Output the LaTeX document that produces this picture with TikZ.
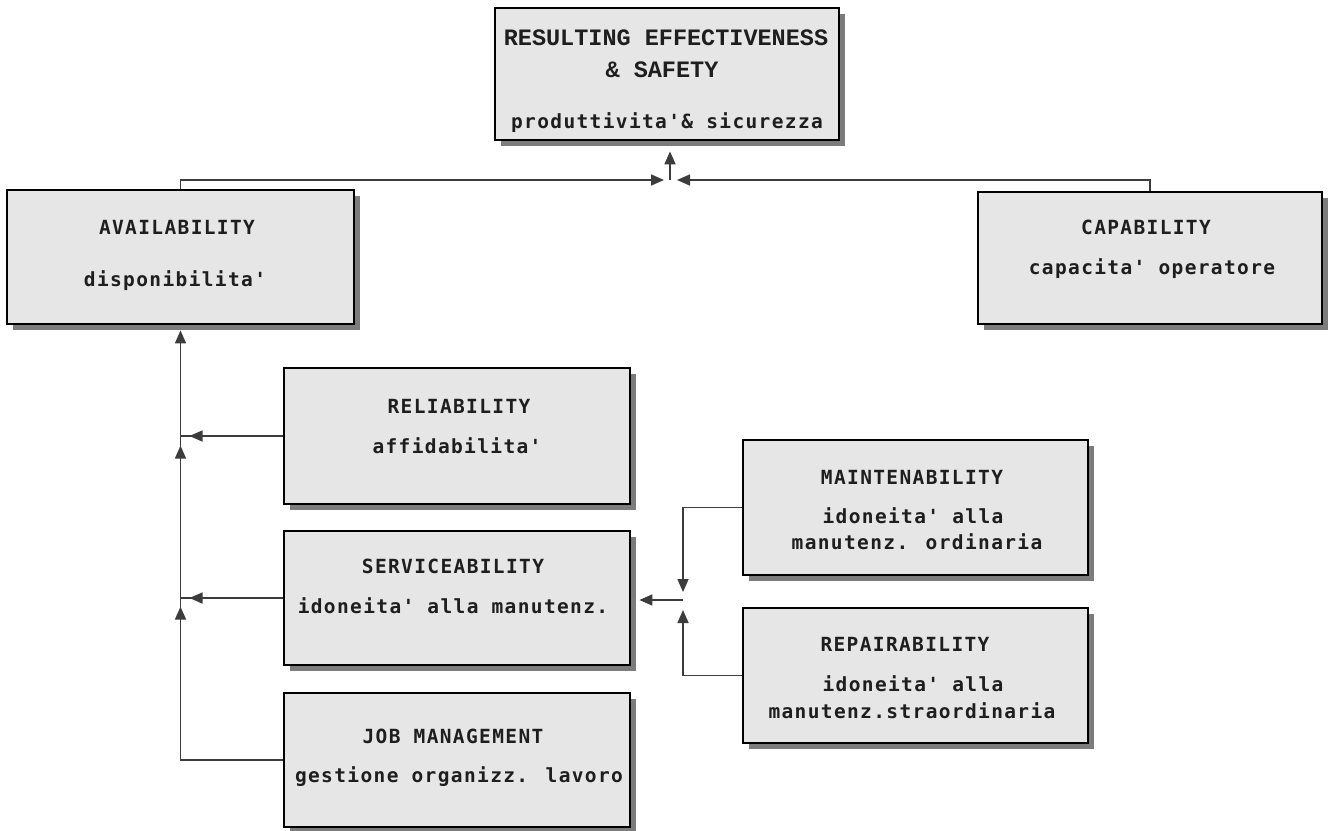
\documentclass[tikz,border=0pt]{standalone}
\usepackage{fontspec}
\usetikzlibrary{arrows.meta,shadows,decorations.markings}
\newfontfamily\bodyfont{DejaVu Sans Mono}[LetterSpace=7]
\newfontfamily\ttlfont{Liberation Mono}
\definecolor{boxfill}{HTML}{E6E6E6}
\definecolor{shadowgray}{HTML}{7C7C7C}
\definecolor{textcol}{HTML}{1E1E1E}
\definecolor{linecol}{HTML}{3C3C3C}
\tikzset{tri/.tip={Triangle[length=13pt,width=11pt]}}
\begin{document}
\begin{tikzpicture}[x=1pt,y=-1pt,
  box/.style={draw=black,line width=2.8pt,fill=boxfill,inner sep=0pt,
    drop shadow={shadow xshift=6pt,shadow yshift=-6pt,fill=shadowgray,opacity=1}},
  lbl/.style={anchor=base,inner sep=0pt,text=textcol,font=\bodyfont\bfseries\fontsize{19.5}{23}\selectfont},
  ttl/.style={anchor=base,inner sep=0pt,text=textcol,font=\ttlfont\bfseries\fontsize{23.5}{27}\selectfont},
  conn/.style={draw=linecol,line width=1.6pt},
]
\fill[white] (0,0) rectangle (1330,830);
\useasboundingbox (0,0) rectangle (1330,830);

% boxes
\node[box,minimum width=344pt,minimum height=132pt] (top) at (667,74) {};
\node[box,minimum width=347pt,minimum height=134pt] (avail) at (180.5,257) {};
\node[box,minimum width=344pt,minimum height=132pt] (cap) at (1150,258) {};
\node[box,minimum width=346pt,minimum height=136pt] (rel) at (457,436) {};
\node[box,minimum width=346pt,minimum height=134pt] (serv) at (457,598) {};
\node[box,minimum width=346pt,minimum height=134pt] (job) at (457,760) {};
\node[box,minimum width=345pt,minimum height=135pt] (maint) at (915.5,507.5) {};
\node[box,minimum width=345pt,minimum height=135pt] (rep) at (915.5,675.5) {};

% texts
\node[ttl] (t1) at (666,45) {RESULTING EFFECTIVENESS};
\node[ttl] (t2) at (662,77) {\& SAFETY};
\node[lbl] (t3) at (667,128) {produttivita'\& sicurezza};

\node[lbl] (a1) at (177,234) {AVAILABILITY};
\node[lbl] (a2) at (175,286) {disponibilita'};

\node[lbl] (c1) at (1146,234) {CAPABILITY};
\node[lbl] (c2) at (1152,274) {capacita' operatore};

\node[lbl] (r1) at (459,413) {RELIABILITY};
\node[lbl] (r2) at (457,453) {affidabilita'};

\node[lbl] (s1) at (453,573) {SERVICEABILITY};
\node[lbl] (s2) at (453,613) {idoneita' alla manutenz.};

\node[lbl] (j1t) at (453,743) {JOB MANAGEMENT};
\node[lbl] (j2t) at (459,782) {gestione organizz. lavoro};

\node[lbl] (m1) at (912,484) {MAINTENABILITY};
\node[lbl] (m2) at (913,523) {idoneita' alla};
\node[lbl] (m3) at (917,549) {manutenz. ordinaria};

\node[lbl] (p1) at (905,651) {REPAIRABILITY};
\node[lbl] (p2) at (913,691) {idoneita' alla};
\node[lbl] (p3) at (912,718) {manutenz.straordinaria};

% junctions
\coordinate (ja) at (670,180);
\coordinate (jb) at (683,600);

% top connectors
\draw[conn,-tri,shorten >=6pt] (avail.north) |- (ja);
\draw[conn,-tri,shorten >=7pt] (cap.north) |- (ja);
\draw[conn,-tri,shorten >=10pt] (ja) -- (top.south -| ja);

% left vertical bus
\draw[conn,-tri,shorten >=5pt,postaction={decorate},
  decoration={markings,
    mark=at position 255.5pt with {\arrow{tri}},
    mark=at position 416.5pt with {\arrow{tri}}}]
  (job.west) -| (avail.south);
\draw[conn,postaction={decorate},
  decoration={markings,mark=at position -9pt with {\arrow{tri}}}]
  (rel.west) -- (rel.west -| avail.south);
\draw[conn,postaction={decorate},
  decoration={markings,mark=at position -9pt with {\arrow{tri}}}]
  (serv.west) -- (serv.west -| avail.south);

% right group
\draw[conn,-tri,shorten >=8pt] (maint.west) -| (jb);
\draw[conn,-tri,shorten >=10pt] (rep.west) -| (jb);
\draw[conn,-tri,shorten >=8pt] (jb) -- (jb -| serv.east);
\end{tikzpicture}
\end{document}
